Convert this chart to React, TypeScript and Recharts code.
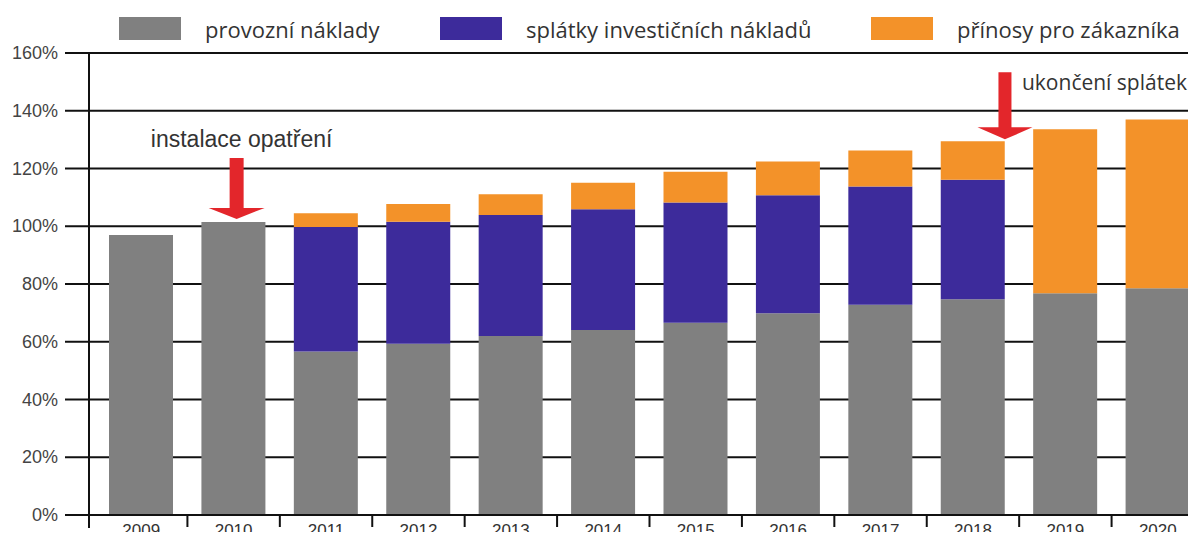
import React from 'react';
import { BarChart, Bar, XAxis, YAxis, CartesianGrid, ReferenceDot } from 'recharts';

const years = ['2009', '2010', '2011', '2012', '2013', '2014', '2015', '2016', '2017', '2018', '2019', '2020'];
const provozniNaklady = [97, 101.5, 56.6, 59.3, 62.0, 64.1, 66.6, 69.9, 72.8, 74.7, 76.8, 78.5];
const splatkyInvesticnichNakladu = [0, 0, 43.1, 42.3, 41.9, 41.8, 41.6, 40.8, 41.0, 41.4, 0, 0];
const prinosyProZakaznika = [0, 0, 4.8, 6.1, 7.2, 9.2, 10.7, 11.7, 12.4, 13.3, 56.8, 58.5];
const yTicks = [0, 20, 40, 60, 80, 100, 120, 140, 160];
const seriesNames = ['provozní náklady', 'splátky investičních nákladů', 'přínosy pro zákazníka'];
const seriesColors = ['#808080', '#3d2b9b', '#f39229'];
const annotations = ['instalace opatření', 'ukončení splátek'];

const data = years.map((year, i) => ({
  year,
  provozni: provozniNaklady[i],
  splatky: splatkyInvesticnichNakladu[i],
  prinosy: prinosyProZakaznika[i],
  top: provozniNaklady[i] + splatkyInvesticnichNakladu[i] + prinosyProZakaznika[i],
}));

const X_PAD = 6;
const RED = '#e3262b';

function arrowPoints(tipX: number, tipY: number, shaftTop: number, shaftW: number, headW: number, headH: number) {
  const pts = [
    [tipX - shaftW / 2, shaftTop],
    [tipX + shaftW / 2, shaftTop],
    [tipX + shaftW / 2, tipY - headH],
    [tipX + headW / 2, tipY - headH],
    [tipX, tipY],
    [tipX - headW / 2, tipY - headH],
    [tipX - shaftW / 2, tipY - headH],
  ];
  return pts.map((p) => p.join(',')).join(' ');
}

const InstallShape = (props: any) => {
  const { cx, cy } = props;
  if (cx == null || cy == null) return null;
  return (
    <g>
      <polygon points={arrowPoints(cx + 3, cy - 3, cy - 64, 14, 56, 11)} fill={RED} />
      <text x={cx + 8} y={cy - 75} textAnchor="middle" fontFamily="'Liberation Sans', Arial, sans-serif" fontSize={23} fill="#333">
        {annotations[0]}
      </text>
    </g>
  );
};

const EndShape = (props: any) => {
  const { cx, cy } = props;
  if (cx == null || cy == null) return null;
  return (
    <g>
      <polygon points={arrowPoints(cx + 32, cy - 2, cy - 69, 13, 55, 12)} fill={RED} />
      <text x={cx + 49} y={cy - 51} textAnchor="start" fontFamily="'Open Sans', sans-serif" fontSize={21} fill="#333">
        {annotations[1]}
      </text>
    </g>
  );
};

const XTick = (props: any) => {
  const { x, y, payload, index } = props;
  const half = payload && typeof payload.offset === 'number' && payload.offset > 0 ? payload.offset : 46;
  const bx = index === 0 ? x - half - X_PAD : x - half;
  return (
    <g>
      <line x1={bx} y1={y} x2={bx} y2={index === 0 ? y + 13 : y + 12} stroke="#111" strokeWidth={2} />
      <text x={x} y={y + 21} textAnchor="middle" fontFamily="'Liberation Sans', Arial, sans-serif" fontSize={17} fill="#333">
        {payload.value}
      </text>
    </g>
  );
};

const YTick = (props: any) => {
  const { x, y, payload } = props;
  return (
    <text x={x} y={y + 6} textAnchor="end" fontFamily="'Liberation Sans', Arial, sans-serif" fontSize={18} fill="#444">
      {`${payload.value}%`}
    </text>
  );
};

const legendItems = [
  { swatchLeft: 119, textLeft: 205 },
  { swatchLeft: 440, textLeft: 526 },
  { swatchLeft: 871, textLeft: 957 },
];

export default function App() {
  return (
    <div style={{ position: 'relative', width: 1196, height: 540, margin: -8, overflow: 'hidden', background: '#fff' }}>
      <BarChart
        width={1204}
        height={540}
        data={data}
        margin={{ top: 53, right: 0, bottom: 0, left: 0 }}
        barSize={64}
      >
        <CartesianGrid vertical={false} stroke="#111" strokeWidth={2} />
        <XAxis
          dataKey="year"
          height={25}
          padding={{ left: X_PAD, right: 0 }}
          axisLine={{ stroke: '#111', strokeWidth: 2 }}
          tickLine={false}
          tickSize={0}
          tickMargin={0}
          interval={0}
          tick={<XTick />}
        />
        <YAxis
          width={89}
          domain={[0, 160]}
          ticks={yTicks}
          interval={0}
          axisLine={{ stroke: '#111', strokeWidth: 2 }}
          tickLine={{ stroke: '#111', strokeWidth: 2 }}
          tickSize={24}
          tickMargin={7}
          tick={<YTick />}
        />
        <Bar dataKey="provozni" stackId="a" fill={seriesColors[0]} isAnimationActive={false} />
        <Bar dataKey="splatky" stackId="a" fill={seriesColors[1]} isAnimationActive={false} />
        <Bar dataKey="prinosy" stackId="a" fill={seriesColors[2]} isAnimationActive={false} />
        <ReferenceDot x={years[1]} y={data[1].top} r={0} ifOverflow="visible" shape={<InstallShape />} />
        <ReferenceDot x={years[9]} y={data[9].top} r={0} ifOverflow="visible" shape={<EndShape />} />
      </BarChart>
      {legendItems.map((item, i) => (
        <React.Fragment key={seriesNames[i]}>
          <div
            style={{
              position: 'absolute',
              left: item.swatchLeft,
              top: 17,
              width: 62,
              height: 23,
              background: seriesColors[i],
            }}
          />
          <div
            style={{
              position: 'absolute',
              left: item.textLeft,
              top: 12,
              fontFamily: "'Open Sans', sans-serif",
              fontSize: 22,
              lineHeight: '34px',
              color: '#333',
              whiteSpace: 'nowrap',
            }}
          >
            {seriesNames[i]}
          </div>
        </React.Fragment>
      ))}
    </div>
  );
}
